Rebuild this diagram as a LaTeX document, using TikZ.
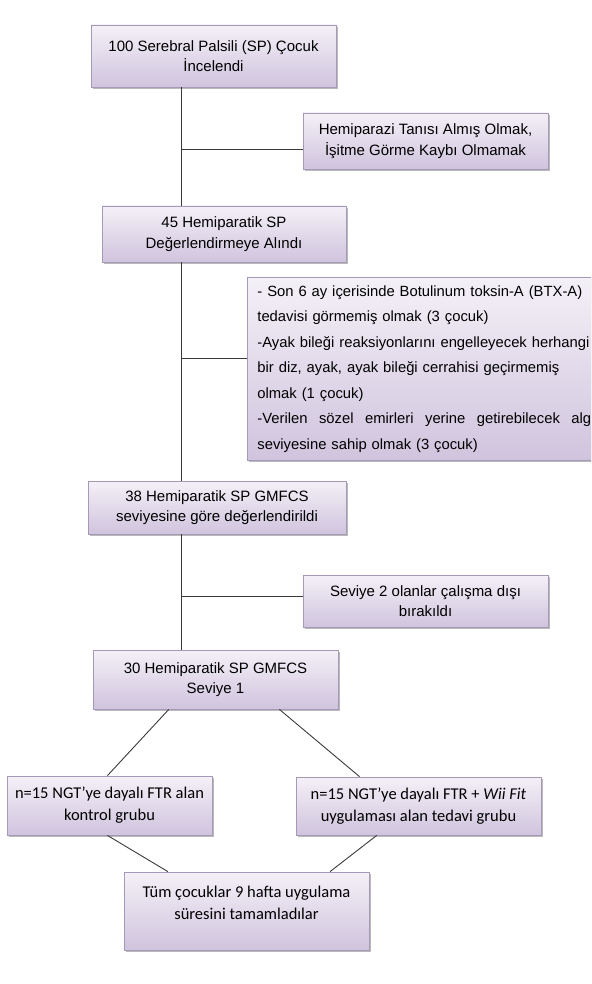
\documentclass[tikz,border=0pt]{standalone}
\usepackage{fontspec}
\setmainfont{Liberation Sans}
\newfontfamily\calibri{Carlito}
\usetikzlibrary{calc,shadows}

\definecolor{kutuust}{HTML}{F4F0F7}
\definecolor{kutualt}{HTML}{D0C4DE}
\definecolor{kutucizgi}{HTML}{A699B8}
\definecolor{hat}{HTML}{3A3A3A}

\tikzset{
  kutu/.style={draw=kutucizgi,line width=0.8pt,top color=kutuust,bottom color=kutualt,
    drop shadow={shadow xshift=1.5pt,shadow yshift=-2pt,fill=black!45,opacity=0.6},
    align=center,inner sep=0pt,font=\fontsize{15}{20.5}\selectfont},
  calkutu/.style={kutu,font=\calibri\fontsize{16.5}{22}\selectfont},
  hatcizgi/.style={draw=hat,line width=0.9pt}
}

\begin{document}
\begin{tikzpicture}[x=1pt,y=-1pt]
\useasboundingbox (0,0) rectangle (591,984);
\clip (0,0) rectangle (591,984);

% ust kisim
\node[kutu,minimum width=245pt,minimum height=62pt] (b1) at (213.5,56) {100 Serebral Palsili (SP) Çocuk\\İncelendi};
\node[kutu,minimum width=245pt,minimum height=56pt] (b2) at (425.5,141) {Hemiparazi Tanısı Almış Olmak,\\İşitme Görme Kaybı Olmamak};
\node[kutu,minimum width=244pt,minimum height=56pt] (b3) at (224,234) {45 Hemiparatik SP\\Değerlendirmeye Alındı};

% dislama kriterleri
\node[kutu,anchor=north west,minimum width=386pt,minimum height=183pt,text width=366pt,
  align=left,inner xsep=10pt,font=\fontsize{14.8}{25.5}\selectfont] (b4) at (247,277)
  {- Son 6 ay içerisinde Botulinum toksin-A (BTX-A)\\
   tedavisi görmemiş olmak (3 çocuk)\\
   -Ayak bileği reaksiyonlarını engelleyecek herhangi\\
   bir diz, ayak, ayak bileği cerrahisi geçirmemiş\\
   olmak (1 çocuk)\\
   \leavevmode\hbox to 338pt{-Verilen \hfill sözel \hfill emirleri \hfill yerine \hfill getirebilecek \hfill algı}\\
   seviyesine sahip olmak (3 çocuk)};

\node[kutu,minimum width=258pt,minimum height=53pt] (b5) at (217,507.5) {38 Hemiparatik SP GMFCS\\seviyesine göre değerlendirildi};
\node[kutu,minimum width=245pt,minimum height=52pt] (b6) at (425.5,601) {Seviye 2 olanlar çalışma dışı\\bırakıldı};
\node[kutu,minimum width=245pt,minimum height=59pt] (b7) at (215.5,679.5) {30 Hemiparatik SP GMFCS\\Seviye 1};

% gruplar
\node[calkutu,minimum width=205pt,minimum height=59pt] (b8) at (109.5,805.5) {n=15 NGT’ye dayalı FTR alan\\kontrol grubu};
\node[calkutu,minimum width=245pt,minimum height=58pt] (b9) at (418.5,806) {n=15 NGT’ye dayalı FTR + \textit{Wii Fit}\\uygulaması alan tedavi grubu};
\node[calkutu,minimum width=245pt,minimum height=78pt] (b10) at (246.5,911) {Tüm çocuklar 9 hafta uygulama\\süresini tamamladılar\rule[-16pt]{0pt}{0pt}};

% ana hat
\coordinate (ax) at (181,0);
\coordinate (j2) at (181,149);
\coordinate (j4) at (181,358);
\coordinate (j6) at (181,596);
\draw[hatcizgi] (ax |- b1.south) -- (ax |- b3.north);
\draw[hatcizgi] (ax |- b3.south) -- (ax |- b5.north);
\draw[hatcizgi] (ax |- b5.south) -- (ax |- b7.north);
\draw[hatcizgi] (j2) -- (j2 -| b2.west);
\draw[hatcizgi] (j4) -- (j4 -| b4.west);
\draw[hatcizgi] (j6) -- (j6 -| b6.west);

% capraz baglantilar
\draw[hatcizgi] ($(b7.south west)!0.31!(b7.south east)$) -- ($(b8.north west)!0.49!(b8.north east)$);
\draw[hatcizgi] ($(b7.south west)!0.76!(b7.south east)$) -- ($(b9.north west)!0.26!(b9.north east)$);
\draw[hatcizgi] ($(b8.south west)!0.49!(b8.south east)$) -- ($(b10.north west)!0.18!(b10.north east)$);
\draw[hatcizgi] ($(b9.south west)!0.33!(b9.south east)$) -- ($(b10.north west)!0.84!(b10.north east)$);

\end{tikzpicture}
\end{document}
